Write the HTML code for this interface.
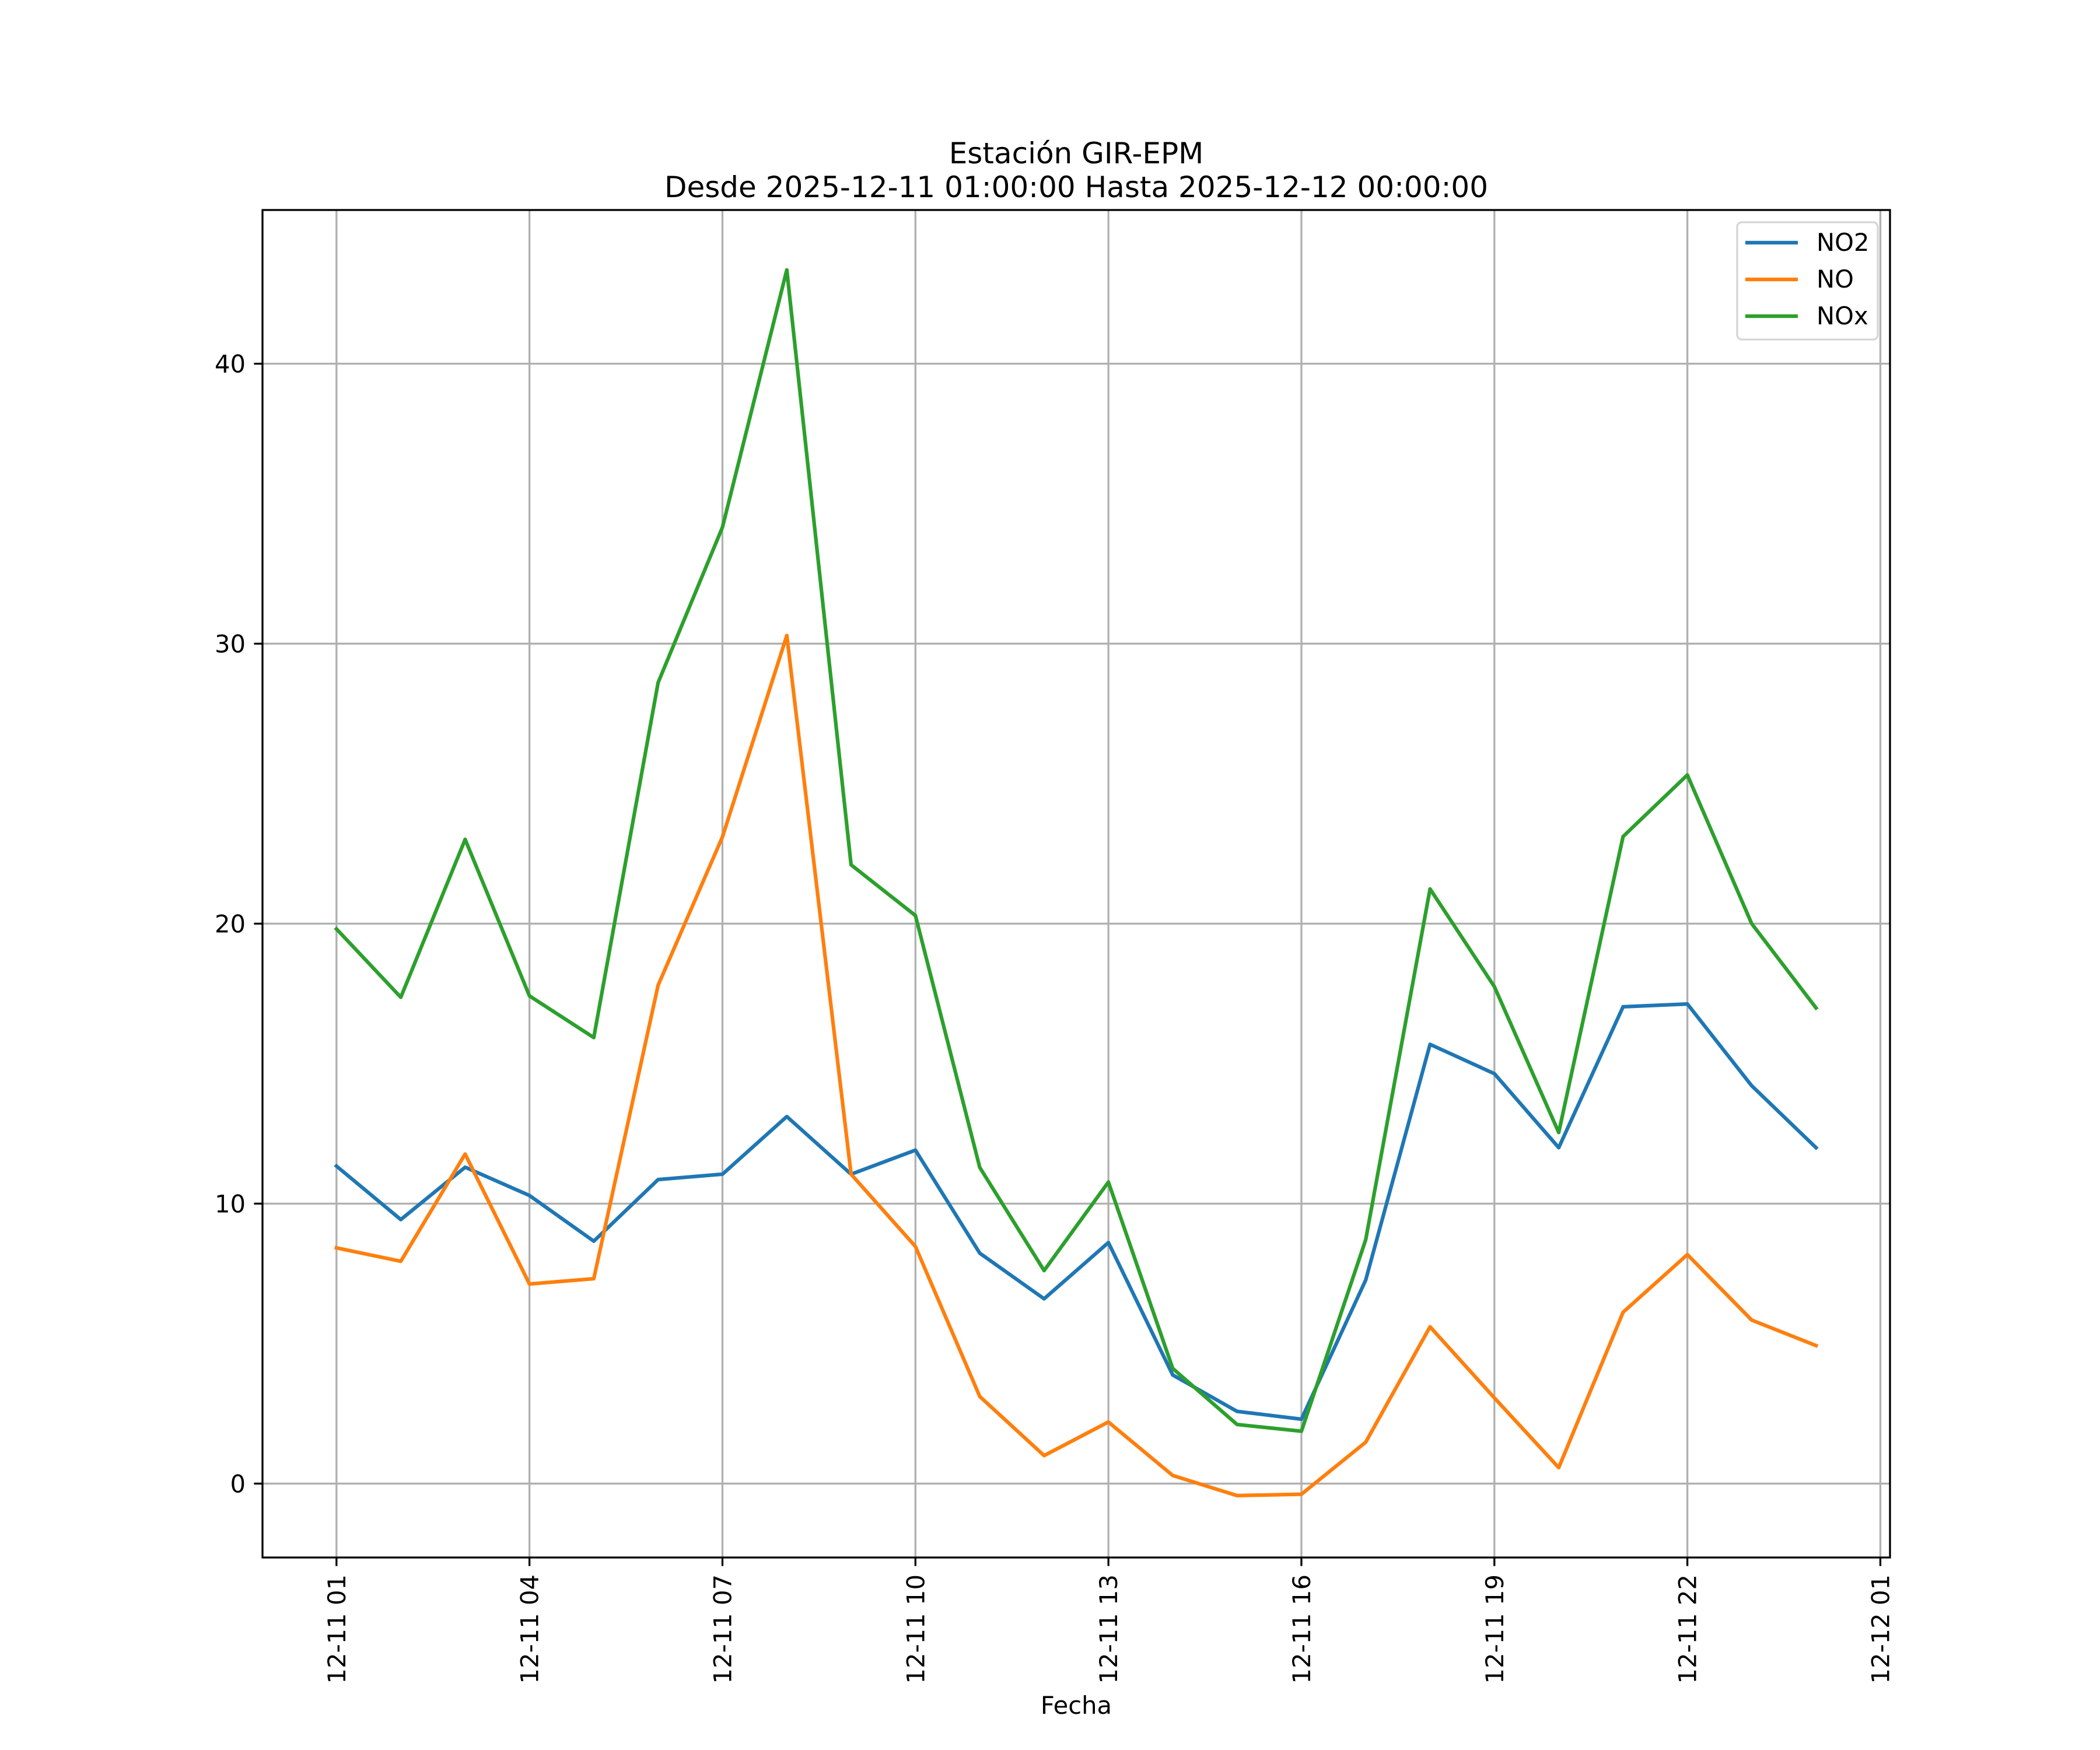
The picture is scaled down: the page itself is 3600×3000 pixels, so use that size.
<!DOCTYPE html>
<html><head><meta charset="utf-8"><style>
html,body{margin:0;padding:0;background:#fff;}
svg{display:block;font-family:"DejaVu Sans","Liberation Sans",sans-serif;}
</style></head><body>
<svg id="chart" width="3600" height="3000" viewBox="0 0 3600 3000" xmlns="http://www.w3.org/2000/svg">
<rect x="0" y="0" width="3600" height="3000" fill="#fff"/>
<text x="1845" y="280" font-size="50" text-anchor="middle">Estación GIR-EPM</text>
<text x="1845" y="338" font-size="50" text-anchor="middle">Desde 2025-12-11 01:00:00 Hasta 2025-12-12 00:00:00</text>
<g id="grid"></g>
<g id="series"></g>
<rect x="450" y="360" width="2790" height="2310" fill="none" stroke="#000" stroke-width="3.3"/>
<g id="ticks"></g>
<text x="1845" y="2938" font-size="41.7" text-anchor="middle">Fecha</text>
<g>
<rect x="2978" y="381" width="241" height="201" rx="8" fill="#fff" fill-opacity="0.8" stroke="#d6d6d6" stroke-width="3.3"/>
<line x1="2992" y1="416" x2="3082" y2="416" stroke="#1f77b4" stroke-width="6.25"/>
<text x="3114" y="430" font-size="41.7">NO2</text>
<line x1="2992" y1="479" x2="3082" y2="479" stroke="#ff7f0e" stroke-width="6.25"/>
<text x="3114" y="493" font-size="41.7">NO</text>
<line x1="2992" y1="542" x2="3082" y2="542" stroke="#2ca02c" stroke-width="6.25"/>
<text x="3114" y="556" font-size="41.7">NOx</text>
</g>
</svg>
<script>
const hours = [0,1,2,3,4,5,6,7,8,9,10,11,12,13,14,15,16,17,18,19,20,21,22,23];
const no2 = [11.34,9.43,11.3,10.29,8.66,10.86,11.05,13.11,11.05,11.91,8.23,6.6,8.61,3.88,2.58,2.3,7.27,15.69,14.64,12.0,17.03,17.13,14.21,12.0];
const no = [8.42,7.94,11.77,7.13,7.32,17.8,23.1,30.29,11.05,8.47,3.11,1.0,2.2,0.29,-0.43,-0.38,1.48,5.6,3.06,0.57,6.12,8.18,5.84,4.93];
const nox = [19.81,17.37,23.01,17.42,15.93,28.61,34.16,43.35,22.1,20.29,11.29,7.61,10.77,4.11,2.11,1.87,8.71,21.24,17.75,12.54,23.11,25.31,20.0,16.99];
const yTicks = [0,10,20,30,40];
const xTickHours = [0,3,6,9,12,15,18,21,24];
const xTickLabels = ["12-11 01","12-11 04","12-11 07","12-11 10","12-11 13","12-11 16","12-11 19","12-11 22","12-12 01"];

const L=450,R=3240,T=360,B=2670;
const xMin=-1.15,xMax=24.15,yMin=-2.64,yMax=45.49;
function xs(h){return L+(h-xMin)/(xMax-xMin)*(R-L);}
function ys(v){return B-(v-yMin)/(yMax-yMin)*(B-T);}
const NS="http://www.w3.org/2000/svg";
function mk(tag,attrs,parent){const e=document.createElementNS(NS,tag);for(const k in attrs)e.setAttribute(k,attrs[k]);parent.appendChild(e);return e;}
const grid=document.getElementById('grid'),ticks=document.getElementById('ticks'),series=document.getElementById('series');
yTicks.forEach(v=>{
  const y=ys(v);
  const g=mk('line',{x1:L,x2:R,y1:y,y2:y,stroke:'#b0b0b0','stroke-width':3.3},grid);
  
  
  const t=mk('line',{x1:L-14.6,x2:L,y1:y,y2:y,stroke:'#000','stroke-width':3.3},ticks);
  
  
  const tx=mk('text',{x:L-29,y:y+15,'font-size':41.7,'text-anchor':'end'},ticks);
  tx.textContent=String(v);
  
  
});
xTickHours.forEach((h,i)=>{
  const x=xs(h);
  const g=mk('line',{x1:x,x2:x,y1:T,y2:B,stroke:'#b0b0b0','stroke-width':3.3},grid);
  
  
  const t=mk('line',{x1:x,x2:x,y1:B,y2:B+14.6,stroke:'#000','stroke-width':3.3},ticks);
  
  
  const tx=mk('text',{x:0,y:0,'font-size':41.7,'text-anchor':'end',transform:`translate(${x+15},${B+29}) rotate(-90)`},ticks);
  tx.textContent=xTickLabels[i];
  
  
});
function drawLine(vals,color,name){
  const pts=vals.map((v,i)=>xs(hours[i]).toFixed(1)+','+ys(v).toFixed(1)).join(' ');
  const p=mk('polyline',{points:pts,fill:'none',stroke:color,'stroke-width':6.25,'stroke-linejoin':'round','stroke-linecap':'square'},series);
  
  
}
drawLine(no2,'#1f77b4','line-no2');
drawLine(no,'#ff7f0e','line-no');
drawLine(nox,'#2ca02c','line-nox');
</script>
</body></html>
